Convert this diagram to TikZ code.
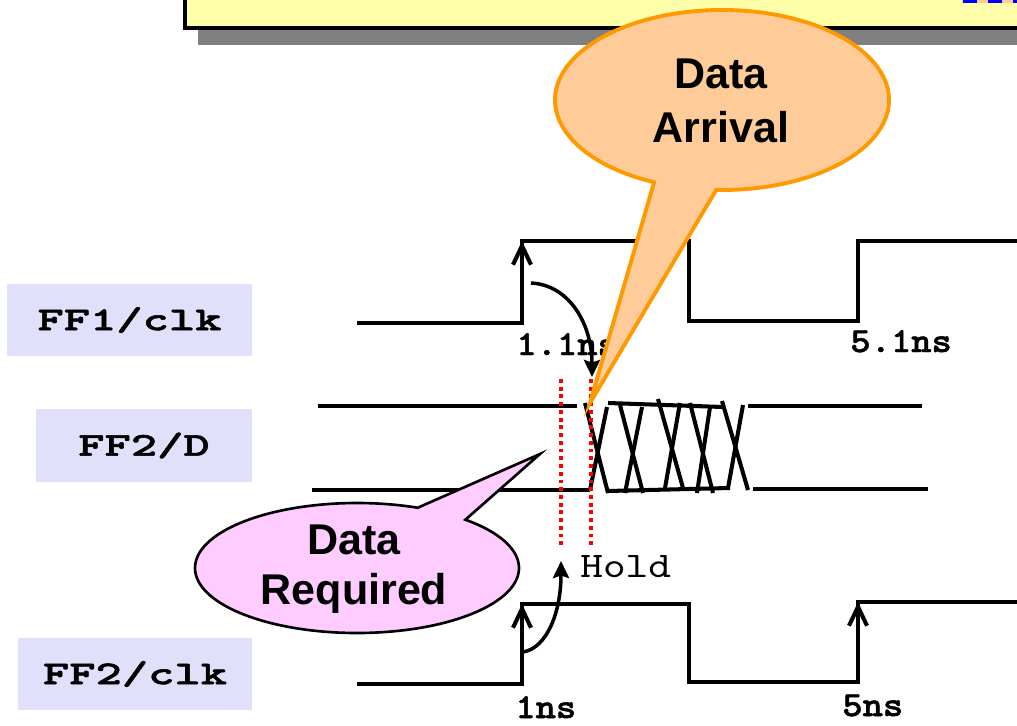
\documentclass[tikz,border=0pt]{standalone}
\usepackage{fontspec}
\setmainfont{Liberation Sans}
\newfontfamily\labfont[FakeStretch=1.5, FakeBold=1.6]{lmmonolt10-bold.otf}
\newfontfamily\timefont[FakeStretch=1.1, FakeBold=1.4]{lmmonolt10-bold.otf}
\newfontfamily\holdfont[FakeStretch=1.2]{lmmono10-regular.otf}
\usetikzlibrary{arrows.meta}
\definecolor{notebg}{HTML}{FFFFAA}
\definecolor{tagbg}{HTML}{E0E0FA}
\definecolor{arrivalfill}{HTML}{FFCC99}
\definecolor{arrivaledge}{HTML}{FF9900}
\definecolor{requiredfill}{HTML}{FFCCFF}
\begin{document}
\begin{tikzpicture}[x=0.02cm, y=-0.02cm,
  sig/.style={line width=2.3pt},
  tag/.style={rectangle, fill=tagbg, minimum height=1.44cm, inner sep=0pt,
    font=\labfont\fontsize{19}{23}\selectfont},
  timelbl/.style={anchor=base west, inner sep=0pt, font=\timefont\fontsize{20}{24}\selectfont},
  clkedge/.style={sig, -{Straight Barb[length=3.8mm, width=3.6mm]}},
  flow/.style={line width=2pt, -{Stealth[length=3.4mm, width=3.2mm, inset=0.5mm]}},
  holdline/.style={red, line width=2.2pt, dash pattern=on 2.2pt off 2.2pt},
  calltext/.style={align=center, inner sep=0pt, font=\bfseries\fontsize{24.5}{#1}\selectfont},
  arrivalcall/.style={fill=arrivalfill, draw=arrivaledge, line width=2.2pt},
  requiredcall/.style={fill=requiredfill, draw=black, line width=1.5pt}
]
\path[use as bounding box] (0,0) rectangle (1017,726);
\clip (0,0) rectangle (1017,726);

\fill[gray] (198,-10) rectangle (1030,45);
\draw[fill=notebg, line width=2.2pt] (185,-10) rectangle (1030,28);
\fill[arrivalfill] (962,0) rectangle (1017,3);
\draw[blue, line width=2pt, dash pattern=on 0.28cm off 0.22cm] (963,1.5) -- (1017,1.5);

\node[tag, minimum width=4.9cm] (ffoneclk) at (129.5,320) {FF1/clk};
\node[tag, minimum width=4.32cm, minimum height=1.46cm] (fftwod) at (144,445.5) {FF2/D};
\node[tag, minimum width=4.68cm] (fftwoclk) at (135,674) {FF2/clk};

\draw[sig] (357,323) -- (522,323) -- (522,241) -- (689,241) -- (689,321)
  -- (858,321) -- (858,241) -- (1030,241);
\draw[clkedge] (522,300) -- (522,241);

\draw[sig] (318,406) -- (577,406);
\draw[sig] (312,490) -- (590,490);
\draw[sig] (585,403) -- (608,493);
\draw[sig] (590,490) -- (607,407);
\draw[sig] (608,403) -- (723,407);
\draw[sig] (608,491) -- (730,488);
\draw[sig] (620,405) -- (643,493);
\draw[sig] (642,407) -- (625,493);
\draw[sig] (658,399) -- (683,488);
\draw[sig] (680,403) -- (665,488);
\draw[sig] (690,403) -- (713,493);
\draw[sig] (710,407) -- (697,493);
\draw[sig] (722,401) -- (748,490);
\draw[sig] (743,405) -- (728,488);
\draw[sig] (748,406) -- (922,406);
\draw[sig] (753,489) -- (928,489);

\draw[sig] (357,684) -- (522,684) -- (522,604) -- (689,604) -- (689,682)
  -- (858,682) -- (858,602) -- (1030,602);
\draw[clkedge] (522,660) -- (522,604);
\draw[clkedge] (858,660) -- (858,602);

\coordinate (reqtop) at (561,379);
\coordinate (reqbot) at (561,549);
\coordinate (arrtop) at (591,379);
\coordinate (arrbot) at (591,549);
\draw[holdline] (reqtop) -- (reqbot);
\draw[holdline] (arrtop) -- (arrbot);

\coordinate (launch) at (531,283);
\coordinate (arrive) at (592,377);
\coordinate (capture) at (523,652);
\coordinate (holdend) at (561,561);
\draw[flow] (launch) .. controls (570,285) and (592,325) .. (arrive);
\draw[flow] (capture) .. controls (547,648) and (561,612) .. (holdend);

\node[timelbl] (launchtime) at (516,355) {1.1ns};
\node[timelbl] (nextlaunch) at (850,352) {5.1ns};
\node[timelbl] (capturetime) at (515,718) {1ns};
\node[timelbl] (nextcapture) at (842,716) {5ns};
\node[anchor=base west, inner sep=0pt, font=\holdfont\fontsize{20.5}{24}\selectfont] (holdlbl) at (580,577) {Hold};

\path[arrivalcall] (722,100) ++(114:167 and 90)
  arc[start angle=114, end angle=452, x radius=167, y radius=90] -- (590,403) -- cycle;
\node[calltext=31] (arrival) at (721,101) {Data\\Arrival};

\path[requiredcall] (357,568) ++(-48:162 and 65)
  arc[start angle=-48, end angle=292, x radius=162, y radius=65] -- (540,454) -- cycle;
\node[calltext=28.5] (required) at (354,569) {Data\\Required};
\end{tikzpicture}
\end{document}
